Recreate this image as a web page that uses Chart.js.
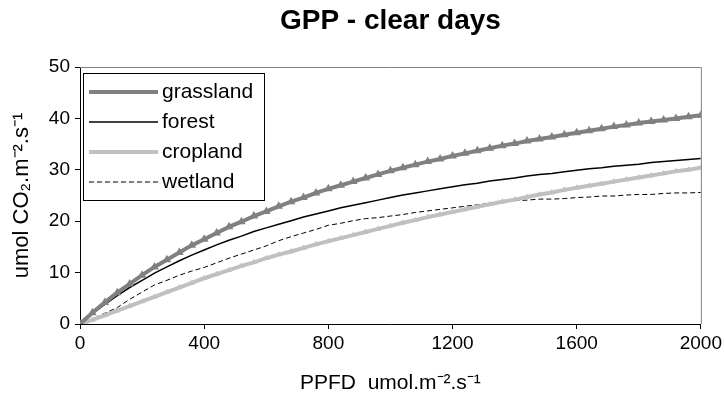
<!DOCTYPE html>
<html>
<head>
<meta charset="utf-8">
<script src="https://cdn.jsdelivr.net/npm/chart.js@4.4.0/dist/chart.umd.min.js"></script>
<style>
  html, body { margin: 0; padding: 0; background: #fff; }
  #wrap { width: 725px; height: 402px; }
</style>
</head>
<body>
<div id="wrap"><canvas id="grafico"></canvas></div>
<script>
// PPFD (x) em passos de 40
var ppfd = [0, 40, 80, 120, 160, 200, 240, 280, 320, 360, 400, 440, 480, 520, 560, 600, 640, 680, 720, 760,
  800, 840, 880, 920, 960, 1000, 1040, 1080, 1120, 1160, 1200, 1240, 1280, 1320, 1360, 1400, 1440, 1480, 1520, 1560,
  1600, 1640, 1680, 1720, 1760, 1800, 1840, 1880, 1920, 1960, 2000];

var grassland = [0, 2.2, 4.2, 6.1, 7.8, 9.5, 11.1, 12.5, 13.9, 15.3, 16.5, 17.7, 18.9, 19.9, 21.0, 21.9, 22.9, 23.8, 24.6, 25.5,
  26.3, 27.0, 27.7, 28.4, 29.1, 29.8, 30.4, 31.0, 31.6, 32.1, 32.7, 33.2, 33.7, 34.2, 34.7, 35.1, 35.6, 36.0, 36.4, 36.8,
  37.2, 37.6, 38.0, 38.4, 38.7, 39.1, 39.4, 39.7, 40.0, 40.3, 40.6];

var forest = [0, 2.0, 3.8, 5.5, 7.1, 8.5, 9.9, 11.1, 12.3, 13.4, 14.4, 15.4, 16.3, 17.1, 18.0, 18.7, 19.4, 20.1, 20.8, 21.4,
  22.0, 22.6, 23.1, 23.6, 24.1, 24.6, 25.1, 25.5, 25.9, 26.3, 26.7, 27.1, 27.4, 27.8, 28.1, 28.4, 28.8, 29.1, 29.3, 29.6,
  29.9, 30.2, 30.4, 30.7, 30.9, 31.1, 31.4, 31.6, 31.8, 32.0, 32.2];

var cropland = [0, 0.8, 1.7, 2.6, 3.5, 4.4, 5.3, 6.2, 7.1, 8.0, 8.9, 9.7, 10.5, 11.3, 12.0, 12.8, 13.5, 14.1, 14.8, 15.5,
  16.1, 16.7, 17.3, 17.9, 18.5, 19.1, 19.7, 20.2, 20.8, 21.3, 21.8, 22.3, 22.8, 23.3, 23.8, 24.2, 24.7, 25.2, 25.6, 26.1,
  26.5, 26.9, 27.3, 27.7, 28.1, 28.5, 28.9, 29.3, 29.7, 30.0, 30.4];

var wetland = [0, 1.0, 2.1, 3.2, 4.8, 6.2, 7.6, 8.5, 9.5, 10.3, 11.0, 11.9, 12.8, 13.6, 14.4, 15.2, 16.2, 17.0, 17.7, 18.4,
  19.2, 19.6, 20.1, 20.5, 20.7, 21.0, 21.3, 21.7, 22.0, 22.3, 22.6, 22.9, 23.2, 23.5, 23.8, 24.0, 24.1, 24.3, 24.3, 24.4,
  24.6, 24.7, 24.9, 24.9, 25.1, 25.2, 25.2, 25.4, 25.5, 25.5, 25.6];

var xTicks = [0, 400, 800, 1200, 1600, 2000];
var yTicks = [0, 10, 20, 30, 40, 50];

var fonte = '"Liberation Sans", Arial, sans-serif';

function pares(ys) {
  return ppfd.map(function (x, i) { return { x: x, y: ys[i] }; });
}

// centraliza o título sobre a área do gráfico
var tituloCentro = {
  id: 'tituloCentro',
  afterLayout: function (chart) {
    var tb = chart.titleBlock;
    if (!tb) return;
    tb.left = chart.chartArea.left;
    tb.right = chart.chartArea.right;
    tb.width = tb.right - tb.left;
  }
};

// legenda desenhada dentro da área do gráfico, igual ao original
var legendaDentro = {
  id: 'legendaDentro',
  afterDraw: function (chart) {
    var ctx = chart.ctx;
    var area = chart.chartArea;
    ctx.save();
    // bordas de cima e da direita em cinza
    ctx.strokeStyle = '#808080';
    ctx.lineWidth = 1;
    ctx.beginPath();
    ctx.moveTo(area.left, area.top + 0.5);
    ctx.lineTo(area.right + 0.5, area.top + 0.5);
    ctx.lineTo(area.right + 0.5, area.bottom);
    ctx.stroke();

    var bx = 83, by = 73, bw = 181, bh = 127;
    ctx.fillStyle = '#fff';
    ctx.fillRect(bx, by, bw, bh);
    ctx.strokeStyle = '#000';
    ctx.strokeRect(bx + 0.5, by + 0.5, bw, bh);

    ctx.font = '21px ' + fonte;
    ctx.textBaseline = 'middle';
    chart.data.datasets.forEach(function (ds, i) {
      var y = 92 + i * 30;
      ctx.strokeStyle = ds.borderColor;
      ctx.lineWidth = ds.borderWidth;
      ctx.setLineDash(ds.borderDash || []);
      ctx.beginPath();
      ctx.moveTo(89, y);
      ctx.lineTo(158, y);
      ctx.stroke();
      ctx.setLineDash([]);
      ctx.fillStyle = '#000';
      ctx.fillText(ds.label, 162, y);
    });
    ctx.restore();
  }
};

new Chart(document.getElementById('grafico'), {
  type: 'line',
  data: {
    datasets: [{
      label: 'grassland',
      data: pares(grassland),
      borderColor: '#808080',
      backgroundColor: '#808080',
      borderWidth: 4,
      pointStyle: 'triangle',
      pointRadius: 5,
      pointBorderWidth: 0
    }, {
      label: 'forest',
      data: pares(forest),
      borderColor: '#000000',
      borderWidth: 1.5,
      pointRadius: 0
    }, {
      label: 'cropland',
      data: pares(cropland),
      borderColor: '#c0c0c0',
      backgroundColor: '#c0c0c0',
      borderWidth: 4,
      pointStyle: 'triangle',
      pointRadius: 3.5,
      pointBorderWidth: 0
    }, {
      label: 'wetland',
      data: pares(wetland),
      borderColor: '#000000',
      borderWidth: 1,
      borderDash: [5, 3],
      pointRadius: 0
    }]
  },
  options: {
    responsive: true,
    maintainAspectRatio: false,
    animation: false,
    layout: { padding: { left: 0, right: 22, top: 0, bottom: 0 } },
    plugins: {
      legend: { display: false },
      tooltip: { enabled: false },
      title: {
        display: true,
        text: 'GPP - clear days',
        color: '#000',
        font: { family: fonte, size: 28, weight: 'bold' },
        padding: { top: 4, bottom: 29.4 }
      }
    },
    scales: {
      x: {
        type: 'linear',
        min: 0,
        max: 2000,
        afterBuildTicks: function (s) { s.ticks = xTicks.map(function (v) { return { value: v }; }); },
        afterFit: function (s) { s.height = 78; },
        grid: { display: true, drawOnChartArea: false, drawTicks: true, tickLength: 5, color: '#000' },
        border: { color: '#000', width: 1 },
        ticks: {
          color: '#000',
          padding: 3,
          maxRotation: 0,
          callback: function (v) { return String(v); },
          font: { family: fonte, size: 19 }
        },
        title: {
          display: true,
          text: 'PPFD  umol.m⁻².s⁻¹',
          color: '#000',
          font: { family: fonte, size: 21 },
          padding: { top: 0, bottom: 6.5 }
        }
      },
      y: {
        type: 'linear',
        min: 0,
        max: 50,
        afterBuildTicks: function (s) { s.ticks = yTicks.map(function (v) { return { value: v }; }); },
        afterFit: function (s) { s.width = 80; },
        grid: { display: true, drawOnChartArea: false, drawTicks: true, tickLength: 5, color: '#000' },
        border: { color: '#000', width: 1 },
        ticks: {
          color: '#000',
          padding: 5,
          callback: function (v) { return String(v); },
          font: { family: fonte, size: 19 }
        },
        title: {
          display: true,
          text: 'umol CO₂.m⁻².s⁻¹',
          color: '#000',
          font: { family: fonte, size: 22 },
          padding: { top: 9, bottom: 0 }
        }
      }
    }
  },
  plugins: [tituloCentro, legendaDentro]
});
</script>
</body>
</html>
